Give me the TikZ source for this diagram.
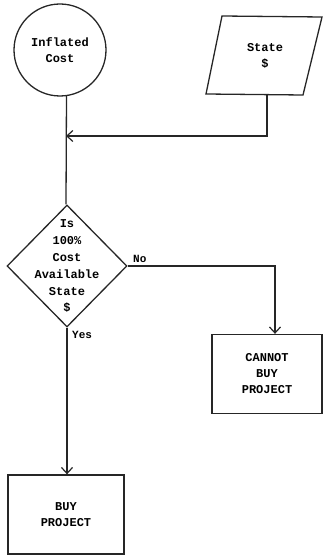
\documentclass[tikz,border=0pt]{standalone}
\usepackage{fontspec}
\setmonofont{Liberation Mono}
\usetikzlibrary{shapes.geometric,arrows.meta}
\begin{document}
\begin{tikzpicture}[x=1pt,y=-1pt,
  every node/.style={font=\ttfamily\bfseries\fontsize{12}{16}\selectfont, align=center, inner sep=0pt},
  line/.style={line width=1.3pt, draw=black!85},
  arr/.style={line, -{Straight Barb[length=6pt,width=11pt,line width=1.2pt]}},
  box/.style={rectangle, line, minimum width=#1, minimum height=79pt},
  lbl/.style={font=\ttfamily\bfseries\fontsize{11}{13}\selectfont}
]
\useasboundingbox (0,0) rectangle (323,556);
% circle
\node[circle, line, minimum size=92pt] (circ) at (60,50) {Inflated\\Cost};
% parallelogram
\draw[line] (222,16) -- (322,17) -- (303,95) -- (206,94) -- cycle;
\node (state) at (265,55.5) {State\\\$};
\coordinate (stateb) at (267,94.5);
\coordinate (merge) at (66,136);
% diamond
\node[diamond, line, minimum width=120pt, minimum height=122pt] (dia) at (67,266) {};
\node[font=\ttfamily\bfseries\fontsize{12}{16.8}\selectfont] (diat) at (67,266.5) {Is\\100\%\\Cost\\Available\\State\\\$};
% boxes
\node[box=110pt] (cannot) at (267,374) {CANNOT\\BUY\\PROJECT};
\node[box=116pt] (buy) at (66,514.5) {BUY\\PROJECT};
% connectors
\draw[line] (circ.-82.5) -- (merge |- dia.north);
\draw[arr] (stateb) |- (merge);
\draw[arr] (dia.east) -| ([xshift=8pt]cannot.north);
\draw[arr] (dia.south) -- (dia.south |- buy.north);
\node[lbl, anchor=south west] (no) at (133,263) {No};
\node[lbl, anchor=north west] (yes) at (72,331) {Yes};
\end{tikzpicture}
\end{document}
